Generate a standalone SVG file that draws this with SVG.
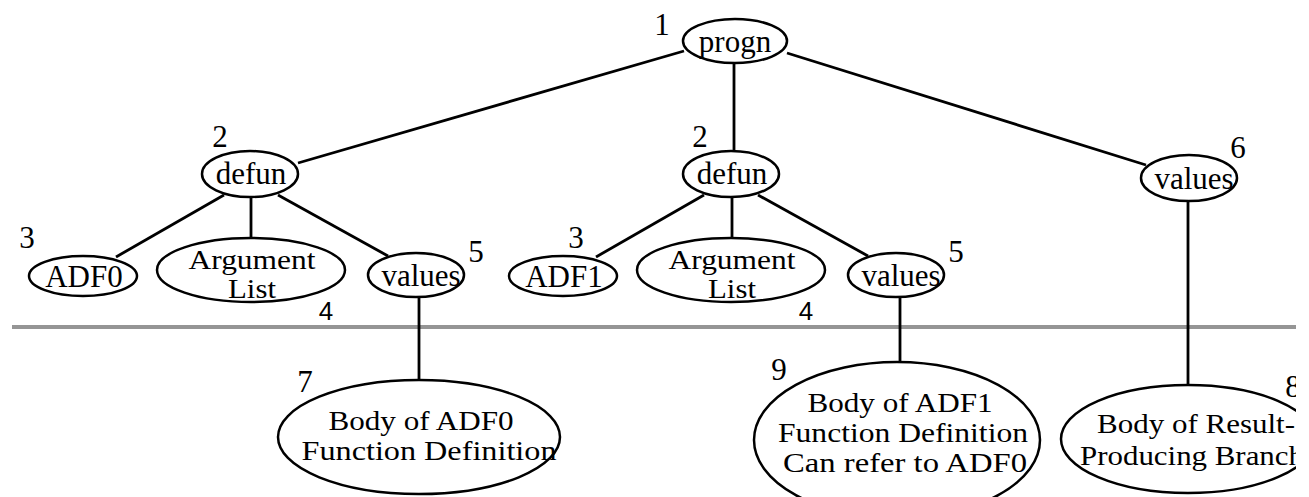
<svg xmlns="http://www.w3.org/2000/svg" width="1309" height="497" viewBox="0 0 1309 497">
<style>
.n{fill:#fff;stroke:#000;stroke-width:2.5}
.c line{stroke:#000;stroke-width:2.8}
text{font-family:"Liberation Serif","Times New Roman",serif;fill:#000;font-size:31px}
.t{text-anchor:middle}
.m{font-size:27px}
.s{font-family:"Liberation Sans",Arial,sans-serif;font-size:26px}
</style>
<defs><clipPath id="clip"><rect x="0" y="0" width="1296" height="497"/></clipPath></defs>
<rect width="1309" height="497" fill="#fff"/>
<g clip-path="url(#clip)">
<rect id="divider" x="12" y="325" width="1297" height="4" fill="#959595"/>
<g class="c" id="connectors">
<line x1="684" y1="51" x2="298" y2="163"/>
<line x1="734" y1="64" x2="734" y2="152"/>
<line x1="787" y1="53" x2="1146" y2="165"/>
<line x1="224" y1="195" x2="116" y2="257"/>
<line x1="251" y1="197" x2="251" y2="238"/>
<line x1="278" y1="195" x2="388" y2="256"/>
<line x1="704" y1="195" x2="596" y2="257"/>
<line x1="732" y1="197" x2="732" y2="238"/>
<line x1="758" y1="195" x2="868" y2="256"/>
<line x1="419" y1="297" x2="419" y2="380"/>
<line x1="900" y1="297" x2="900" y2="362"/>
<line x1="1188" y1="201" x2="1188" y2="385"/>
</g>
<g id="n1"><ellipse class="n" cx="735" cy="41" rx="52" ry="22"/><text class="t" x="735" y="52" font-size="34">progn</text><text x="662" y="35" class="t">1</text></g>
<g id="n2a"><ellipse class="n" cx="250" cy="174" rx="48" ry="23"/><text class="t" x="251" y="184">defun</text><text x="220" y="147" class="t">2</text></g>
<g id="n2b"><ellipse class="n" cx="731" cy="174" rx="48" ry="23"/><text class="t" x="732" y="184">defun</text><text x="700" y="147" class="t">2</text></g>
<g id="n3a"><ellipse class="n" cx="83" cy="276" rx="54" ry="20"/><text class="t" x="84" y="287">ADF0</text><text x="27" y="248" class="t">3</text></g>
<g id="n3b"><ellipse class="n" cx="563" cy="276" rx="54" ry="20"/><text class="t" x="564" y="287">ADF1</text><text x="576" y="248" class="t">3</text></g>
<g id="n4a"><ellipse class="n" cx="251" cy="270" rx="94" ry="32"/><text class="t m" x="252" y="269" textLength="127" lengthAdjust="spacingAndGlyphs">Argument</text><text class="t m" x="252" y="298" textLength="48" lengthAdjust="spacingAndGlyphs">List</text><text x="326" y="320" class="t s">4</text></g>
<g id="n4b"><ellipse class="n" cx="731" cy="270" rx="94" ry="32"/><text class="t m" x="732" y="269" textLength="127" lengthAdjust="spacingAndGlyphs">Argument</text><text class="t m" x="732" y="298" textLength="48" lengthAdjust="spacingAndGlyphs">List</text><text x="806" y="320" class="t s">4</text></g>
<g id="n5a"><ellipse class="n" cx="416" cy="275" rx="48" ry="22"/><text class="t" x="421" y="286">values</text><text x="476" y="262" class="t">5</text></g>
<g id="n5b"><ellipse class="n" cx="896" cy="275" rx="48" ry="22"/><text class="t" x="901" y="286">values</text><text x="956" y="262" class="t">5</text></g>
<g id="n6"><ellipse class="n" cx="1189" cy="178" rx="48" ry="23"/><text class="t" x="1194" y="189">values</text><text x="1238" y="158" class="t">6</text></g>
<g id="n7"><ellipse class="n" cx="419" cy="437" rx="141" ry="57"/><text class="t m" x="421" y="430" textLength="185" lengthAdjust="spacingAndGlyphs">Body of ADF0</text><text class="t m" x="429" y="460" textLength="255" lengthAdjust="spacingAndGlyphs">Function Definition</text><text x="305" y="392" class="t">7</text></g>
<g id="n9"><ellipse class="n" cx="897" cy="440" rx="143" ry="78"/><text class="t m" x="900" y="412" textLength="185" lengthAdjust="spacingAndGlyphs">Body of ADF1</text><text class="t m" x="903" y="442" textLength="250" lengthAdjust="spacingAndGlyphs">Function Definition</text><text class="t m" x="905" y="472" textLength="244" lengthAdjust="spacingAndGlyphs">Can refer to ADF0</text><text x="779" y="380" class="t">9</text></g>
<g id="n8"><ellipse class="n" cx="1188" cy="439" rx="127" ry="54"/><text class="t m" x="1196" y="433" textLength="198" lengthAdjust="spacingAndGlyphs">Body of Result-</text><text class="t m" x="1192" y="465" textLength="224" lengthAdjust="spacingAndGlyphs">Producing Branch</text><text x="1293" y="397" class="t">8</text></g>
</g>
</svg>
